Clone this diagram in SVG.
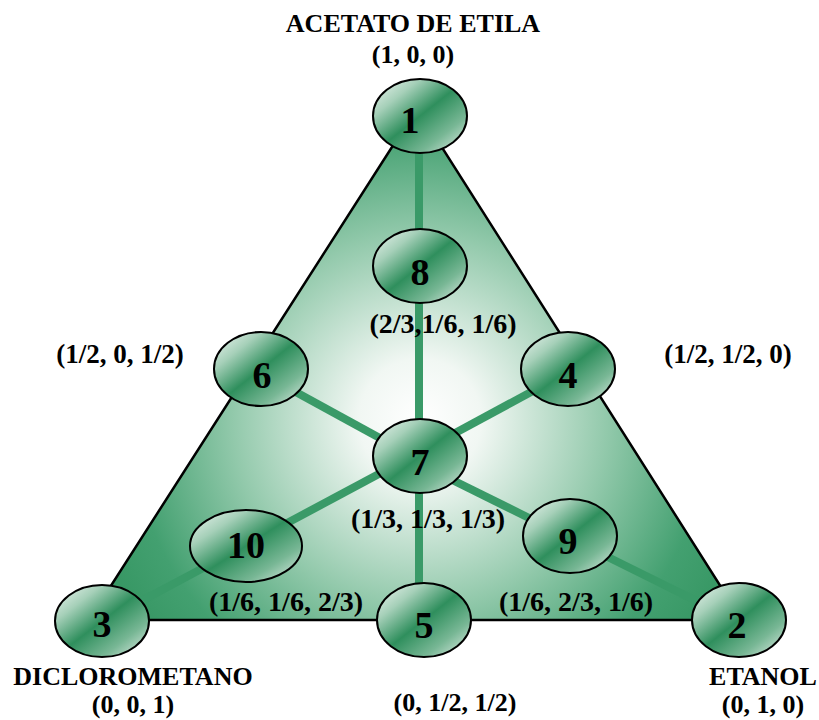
<svg xmlns="http://www.w3.org/2000/svg" width="819" height="720" viewBox="0 0 819 720">
<style>
text{font-family:"Liberation Serif","Times New Roman",serif;font-weight:bold;fill:#000;text-anchor:middle}
.num{font-size:38px}
.head{font-size:26px}
.co{font-size:26px}
.ci{font-size:28px}
.node ellipse{fill:url(#eg);stroke:#000;stroke-width:2}
.conn line{stroke:#3a9a68;stroke-width:8;stroke-linecap:butt}
</style>
<defs>
<radialGradient id="tg" gradientUnits="userSpaceOnUse" cx="420" cy="420" r="340">
<stop offset="0" stop-color="#ffffff"/>
<stop offset="0.18" stop-color="#f1f7f3"/>
<stop offset="0.55" stop-color="#92c9ab"/>
<stop offset="0.85" stop-color="#43a070"/>
<stop offset="1" stop-color="#389865"/>
</radialGradient>
<linearGradient id="eg" x1="0" y1="0" x2="1" y2="1">
<stop offset="0" stop-color="#f4f9f6"/>
<stop offset="0.25" stop-color="#a6d0b9"/>
<stop offset="0.5" stop-color="#2f8f5d"/>
<stop offset="0.75" stop-color="#78b795"/>
<stop offset="1" stop-color="#eaf3ee"/>
</linearGradient>
</defs>
<rect width="819" height="720" fill="#fff"/>
<g id="triangle">
<polygon points="417,108 89,620 742,620" fill="url(#tg)" stroke="#000" stroke-width="2.5" stroke-linejoin="miter"/>
</g>
<g id="connectors" class="conn">
<line x1="419" y1="116" x2="419" y2="456"/>
<line x1="419" y1="456" x2="419" y2="620"/>
<line x1="261" y1="373" x2="420" y2="460"/>
<line x1="420" y1="452" x2="568" y2="372"/>
<line x1="420" y1="452" x2="102" y2="622"/>
<line x1="420" y1="464" x2="739" y2="622"/>
</g>
<g id="node1" class="node"><ellipse cx="420" cy="116" rx="47" ry="37"/><text class="num" x="410" y="133">1</text>
<text class="head" x="413" y="32">ACETATO DE ETILA</text><text class="co" x="413" y="63">(1, 0, 0)</text></g>
<g id="node8" class="node"><ellipse cx="420" cy="266" rx="47" ry="37"/><text class="num" x="420" y="285">8</text>
<text class="ci" x="443" y="333">(2/3,1/6, 1/6)</text></g>
<g id="node6" class="node"><ellipse cx="261" cy="369" rx="47" ry="37"/><text class="num" x="262" y="388">6</text>
<text class="co" x="120" y="363" style="font-size:27px">(1/2, 0, 1/2)</text></g>
<g id="node4" class="node"><ellipse cx="568" cy="369" rx="47" ry="37"/><text class="num" x="568" y="388">4</text>
<text class="co" x="728" y="363" style="font-size:27px">(1/2, 1/2, 0)</text></g>
<g id="node7" class="node"><ellipse cx="420" cy="456" rx="47" ry="37"/><text class="num" x="420" y="475">7</text>
<text class="ci" x="428" y="528">(1/3, 1/3, 1/3)</text></g>
<g id="node10" class="node"><ellipse cx="246" cy="546" rx="56" ry="36"/><text class="num" x="246" y="558">10</text>
<text class="ci" x="286" y="611">(1/6, 1/6, 2/3)</text></g>
<g id="node9" class="node"><ellipse cx="570" cy="536" rx="47" ry="37"/><text class="num" x="568" y="554">9</text>
<text class="ci" x="576" y="611">(1/6, 2/3, 1/6)</text></g>
<g id="node3" class="node"><ellipse cx="102" cy="621" rx="47" ry="36"/><text class="num" x="102" y="637">3</text>
<text class="head" x="133" y="685">DICLOROMETANO</text><text class="co" x="133" y="713">(0, 0, 1)</text></g>
<g id="node5" class="node"><ellipse cx="424" cy="620" rx="47" ry="37"/><text class="num" x="424" y="638">5</text>
<text class="co" x="455" y="711">(0, 1/2, 1/2)</text></g>
<g id="node2" class="node"><ellipse cx="739" cy="620" rx="47" ry="37"/><text class="num" x="737" y="638">2</text>
<text class="head" x="763" y="685">ETANOL</text><text class="co" x="763" y="713">(0, 1, 0)</text></g>
</svg>
